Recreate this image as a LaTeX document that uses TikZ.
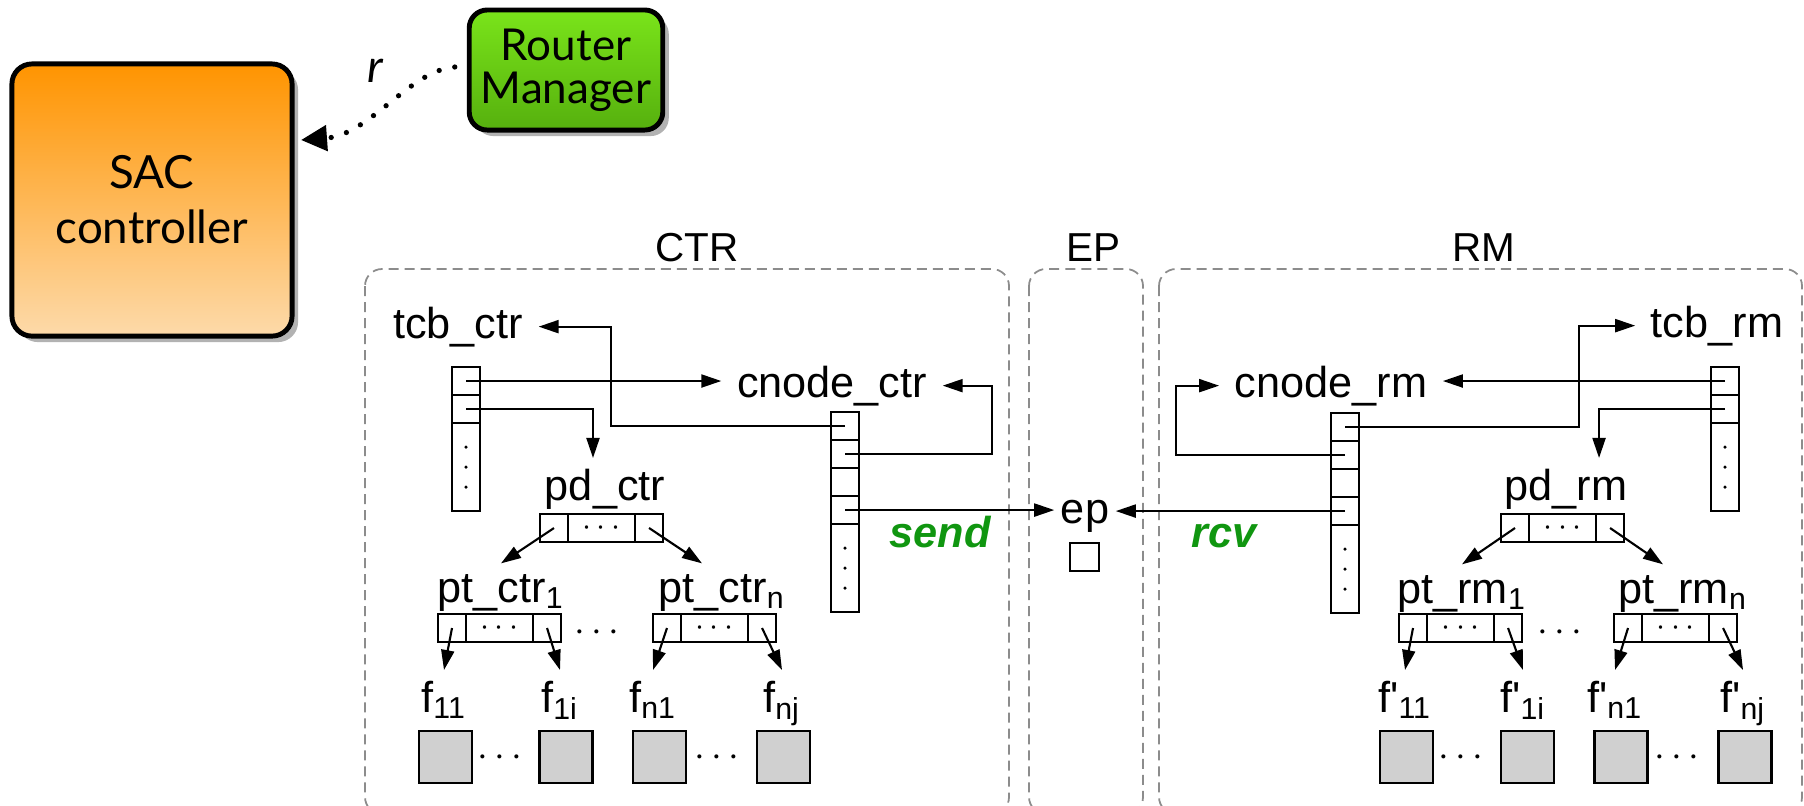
\documentclass[tikz,border=0pt]{standalone}
\usepackage{fontspec}
\setmainfont{Liberation Sans}
\newfontfamily\gillfont{Lato}
\usetikzlibrary{positioning,arrows.meta,shadows,calc}

\definecolor{sacTop}{RGB}{255,148,0}
\definecolor{sacBottom}{RGB}{253,218,170}
\definecolor{rmTop}{RGB}{122,228,26}
\definecolor{rmBottom}{RGB}{86,176,14}
\definecolor{sendGreen}{RGB}{16,150,16}
\definecolor{boxGray}{RGB}{140,140,140}
\definecolor{flowGray}{RGB}{208,208,208}

\tikzset{
  lbl/.style={inner xsep=0.15cm, inner ysep=0.1cm, font=\fontsize{12.3}{14}\selectfont},
  grp/.style={font=\fontsize{11.5}{13}\selectfont},
  msg/.style={text=sendGreen, font=\fontsize{12.3}{14}\selectfont\bfseries\itshape},
  cell/.style={draw, line width=0.6pt, inner sep=0pt, outer sep=0pt, minimum width=0.28cm, minimum height=0.28cm},
  flowsq/.style={draw, line width=0.6pt, fill=flowGray, minimum width=0.53cm, minimum height=0.52cm},
  arr/.style={line width=0.6pt, -{Triangle[length=0.2cm, width=0.13cm]}},
  grpbox/.style={draw=boxGray, line width=0.5pt, dash pattern=on 0.1cm off 0.06cm, rounded corners=0.17cm},
  bigbox/.style={draw, line width=1.4pt, align=center, drop shadow={shadow xshift=0.06cm, shadow yshift=-0.06cm, opacity=0.3, fill=black}}
}

\begin{document}
\begin{tikzpicture}[x=0.01cm, y=0.01cm]
    \useasboundingbox (0,0) rectangle (1804,-805);

    % Controller and router manager
    \node[bigbox, top color=sacTop, bottom color=sacBottom, rounded corners=0.2cm,
          minimum width=2.8cm, minimum height=2.72cm,
          font=\gillfont\fontsize{13}{15.6}\selectfont] (sac) at (152,-200) {SAC\\controller};
    \node[bigbox, top color=rmTop, bottom color=rmBottom, rounded corners=0.18cm,
          minimum width=1.84cm, minimum height=1.2cm,
          font=\gillfont\fontsize{12.5}{12.3}\selectfont] (rman) at (566,-70) {Router\\Manager};
    \coordinate (sacin) at (301,-140);
    \draw[line width=1.5pt, dash pattern=on 0pt off 0.16cm, line cap=round,
          -{Triangle[length=0.26cm, width=0.25cm]}]
        ([shift={(-0.12cm,0.03cm)}]rman.west) .. controls (410,-70) and (370,-135) .. (sacin);
    \node[font=\gillfont\itshape\fontsize{13}{15}\selectfont] (rlbl) at (375,-71) {r};

    % Group boxes
    \draw[grpbox] (365,-269) rectangle (1009,-814);
    \draw[grpbox] (1029,-269) rectangle (1143,-814);
    \draw[grpbox] (1159,-269) rectangle (1802,-814);
    \node[grp, anchor=base] (ctrlbl) at (697,-261) {CTR};
    \node[grp, anchor=base] (eplbl) at (1093,-261) {EP};
    \node[grp, anchor=base] (rmlbl) at (1484,-261) {RM};

    % Labels of the CTR side
    \node[lbl, anchor=base] (tcbctr) at (458,-338) {tcb\_ctr};
    \node[lbl, anchor=base] (cnodectr) at (832,-397) {cnode\_ctr};
    \node[lbl, anchor=base] (pdctr) at (605,-500) {pd\_ctr};
    \node[lbl, anchor=base] (ptctr1) at (501,-602) {pt\_ctr\textsubscript{1}};
    \node[lbl, anchor=base] (ptctrn) at (722,-602) {pt\_ctr\textsubscript{n}};
    \node[lbl, anchor=base] (f11) at (444,-712) {f\textsubscript{11}};
    \node[lbl, anchor=base] (f1i) at (560,-712) {f\textsubscript{1i}};
    \node[lbl, anchor=base] (fn1) at (653,-712) {f\textsubscript{n1}};
    \node[lbl, anchor=base] (fnj) at (782,-712) {f\textsubscript{nj}};

    % Endpoint
    \node[lbl, inner xsep=0.06cm, anchor=base] (ep) at (1085,-523) {ep};
    \node[cell, minimum width=0.29cm] (epbox) at (1084.5,-557) {};
    \node[msg, anchor=base] (sendlbl) at (940,-547) {send};
    \node[msg, anchor=base] (rcvlbl) at (1224,-547) {rcv};

    % Labels of the RM side
    \node[lbl, anchor=base] (tcbrm) at (1717,-337) {tcb\_rm};
    \node[lbl, anchor=base] (cnoderm) at (1331,-397) {cnode\_rm};
    \node[lbl, anchor=base] (pdrm) at (1566,-500) {pd\_rm};
    \node[lbl, anchor=base] (ptrm1) at (1462,-603) {pt\_rm\textsubscript{1}};
    \node[lbl, anchor=base] (ptrmn) at (1683,-603) {pt\_rm\textsubscript{n}};
    \node[lbl, anchor=base] (g11) at (1405,-712) {f\textquotesingle\textsubscript{11}};
    \node[lbl, anchor=base] (g1i) at (1523,-712) {f\textquotesingle\textsubscript{1i}};
    \node[lbl, anchor=base] (gn1) at (1615,-712) {f\textquotesingle\textsubscript{n1}};
    \node[lbl, anchor=base] (gnj) at (1743,-712) {f\textquotesingle\textsubscript{nj}};

    % Vertical tables
    \foreach \nm/\x/\y/\k in {tctr/466/-381/2, cctr/845/-426/4, crm/1345/-427/4, trm/1725/-381/2} {
        \node[cell] (\nm-1) at (\x,\y) {};
        \foreach \i [count=\j] in {2,...,\k}
            \node[cell, below=0pt of \nm-\j] (\nm-\i) {};
        \node[cell, minimum height=0.88cm, below=0pt of \nm-\k] (\nm-d) {};
        \foreach \d in {-20,0,20}
            \fill ($(\nm-d.center)+(0,\d)$) circle (0.5pt);
    }

    % Horizontal tables
    \foreach \nm/\x/\y in {pctr/554/-528, p1ctr/452/-628, pnctr/667/-628, prm/1515/-528, p1rm/1413/-628, pnrm/1628/-628} {
        \node[cell] (\nm-l) at (\x,\y) {};
        \node[cell, minimum width=0.67cm, right=0pt of \nm-l, font=\fontsize{9}{10}\selectfont] (\nm-m) {$\cdots$};
        \node[cell, right=0pt of \nm-m] (\nm-r) {};
    }
    \node[font=\fontsize{11}{12}\selectfont] (dotsctr) at (597,-633) {$\cdots$};
    \node[font=\fontsize{11}{12}\selectfont] (dotsrm) at (1560,-633) {$\cdots$};

    % Flow boxes
    \foreach \nm/\x in {s11/445.5, s1i/566, sn1/659.5, snj/783.5, r11/1406.5, r1i/1527.5, rn1/1621, rnj/1745}
        \node[flowsq] (\nm) at (\x,-757) {};
    \foreach \nm/\x in {sdotsa/500, sdotsb/717, rdotsa/1461, rdotsb/1677}
        \node[font=\fontsize{11}{12}\selectfont] (\nm) at (\x,-758) {$\cdots$};

    % Draw the CTR pointers
    \draw[arr] (tctr-1.center) -- (tctr-1.center -| cnodectr.west);
    \draw[arr] (tctr-2.center) -| ([xshift=-0.12cm]pdctr.north);
    \draw[arr] (cctr-1.center) -- ++(-234,0) |- (tcbctr.east);
    \draw[arr] (cctr-2.center) -- ++(147,0) |- (cnodectr.east);
    \draw[arr] (cctr-4.center) -- (cctr-4.center -| ep.west);
    \draw[arr] (pctr-l.center) -- (ptctr1.north);
    \draw[arr] (pctr-r.center) -- ([xshift=-0.2cm]ptctrn.north);
    \draw[arr] (p1ctr-l.center) -- (f11.north);
    \draw[arr] (p1ctr-r.center) -- (f1i.north);
    \draw[arr] (pnctr-l.center) -- (fn1.north);
    \draw[arr] (pnctr-r.center) -- (fnj.north);

    % Draw the RM pointers
    \draw[arr] (trm-1.center) -- (trm-1.center -| cnoderm.east);
    \draw[arr] (trm-2.center) -| ([xshift=0.33cm]pdrm.north);
    \draw[arr] (crm-1.center) -- ++(234,0) |- (tcbrm.west);
    \draw[arr] (crm-2.center) -- ++(-169,0) |- (cnoderm.west);
    \draw[arr] (crm-4.center) -- (crm-4.center -| ep.east);
    \draw[arr] (prm-l.center) -- (ptrm1.north);
    \draw[arr] (prm-r.center) -- ([xshift=-0.2cm]ptrmn.north);
    \draw[arr] (p1rm-l.center) -- (g11.north);
    \draw[arr] (p1rm-r.center) -- (g1i.north);
    \draw[arr] (pnrm-l.center) -- (gn1.north);
    \draw[arr] (pnrm-r.center) -- (gnj.north);
\end{tikzpicture}
\end{document}
